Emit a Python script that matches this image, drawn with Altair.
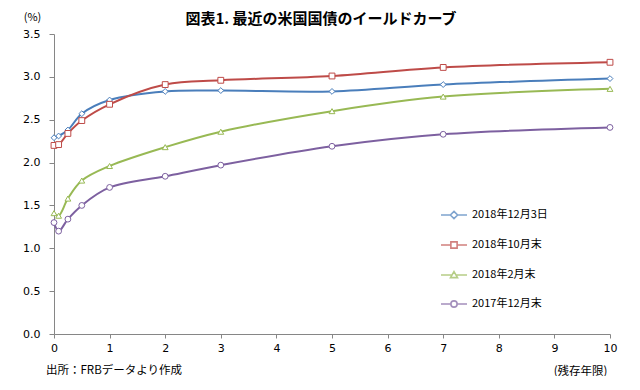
import altair as alt
import pandas as pd

maturity = [0, 0.083, 0.25, 0.5, 1, 2, 3, 5, 7, 10]
series_names = ["2018年12月3日", "2018年10月末", "2018年2月末", "2017年12月末"]
yield_dec3_2018 = [2.29, 2.31, 2.38, 2.57, 2.73, 2.83, 2.84, 2.83, 2.91, 2.98]
yield_oct_2018 = [2.20, 2.21, 2.34, 2.49, 2.68, 2.91, 2.96, 3.01, 3.11, 3.17]
yield_feb_2018 = [1.41, 1.38, 1.58, 1.79, 1.96, 2.18, 2.36, 2.60, 2.77, 2.86]
yield_dec_2017 = [1.30, 1.20, 1.34, 1.50, 1.71, 1.84, 1.97, 2.19, 2.33, 2.41]
x_ticks = [0, 1, 2, 3, 4, 5, 6, 7, 8, 9, 10]
y_ticks = [0.0, 0.5, 1.0, 1.5, 2.0, 2.5, 3.0, 3.5]

colors = ["#4A7EBB", "#BE4B48", "#98B954", "#7D60A0"]
marker_shapes = ["diamond", "square", "triangle-up", "circle"]
legend_shapes = [
    "M-1,0H-0.28M0.28,0H1M0,-0.28L0.28,0L0,0.28L-0.28,0Z",
    "M-1,0H-0.24M0.24,0H1M-0.24,-0.24H0.24V0.24H-0.24Z",
    "M-1,0H-0.15M0.15,0H1M0,-0.26L0.27,0.2L-0.27,0.2Z",
    "M-1,0H-0.24M0.24,0H1M-0.24,0A0.24,0.24,0,1,0,0.24,0A0.24,0.24,0,1,0,-0.24,0Z",
]

rows = []
for name, vals in zip(series_names, [yield_dec3_2018, yield_oct_2018, yield_feb_2018, yield_dec_2017]):
    for m, v in zip(maturity, vals):
        rows.append({"series": name, "maturity": m, "yield": v})
df = pd.DataFrame(rows)

font_jp = "Noto Sans CJK JP"
font_num = "DejaVu Sans"

x_enc = alt.X("maturity:Q",
              scale=alt.Scale(domain=[0, 10], nice=False),
              axis=alt.Axis(values=x_ticks, format="d", title="(残存年限)", grid=False,
                            labelFlush=False,
                            domainColor="#868686", tickColor="#868686", tickSize=4,
                            labelFont=font_num, labelFontSize=11, labelColor="#000000",
                            labelPadding=4,
                            titleFont=font_jp, titleFontSize=11.5, titleFontWeight="normal",
                            titleColor="#000000", titleAnchor="end", titleAlign="right",
                            titleX=553, titleY=37, titleBaseline="middle"))
y_enc = alt.Y("yield:Q",
              scale=alt.Scale(domain=[0, 3.5], nice=False),
              axis=alt.Axis(values=y_ticks, format=".1f", title="(%)", grid=False,
                            labelFlush=False,
                            domainColor="#868686", tickColor="#868686", tickSize=5,
                            labelFont=font_num, labelFontSize=11, labelColor="#000000",
                            labelPadding=9,
                            titleFont=font_jp, titleFontSize=11, titleFontWeight="normal",
                            titleColor="#000000", titleAngle=0, titleAlign="center",
                            titleX=-22, titleY=-17, titleBaseline="middle"))

color_scale = alt.Scale(domain=series_names, range=colors)

lines = alt.Chart(df).mark_line(interpolate="catmull-rom", strokeWidth=2).encode(
    x=x_enc, y=y_enc,
    color=alt.Color("series:N", scale=color_scale, legend=None),
    detail="series:N",
)

points = alt.Chart(df).mark_point(filled=False, fill="white", size=34, strokeWidth=1, opacity=1).encode(
    x=x_enc, y=y_enc,
    color=alt.Color("series:N", scale=color_scale, legend=None),
    shape=alt.Shape("series:N", scale=alt.Scale(domain=series_names, range=marker_shapes), legend=None),
)

legend_props = dict(title=None, orient="none", legendX=386, legendY=167,
                    symbolSize=676, symbolStrokeWidth=1.6,
                    labelFont=font_jp, labelFontSize=11, labelColor="#000000",
                    labelOffset=4, rowPadding=9, padding=0)

legend_layer = alt.Chart(df).transform_filter("false").mark_point(filled=False).encode(
    x=x_enc, y=y_enc,
    stroke=alt.Stroke("series:N", scale=alt.Scale(domain=series_names, range=colors),
                      legend=alt.Legend(**legend_props)),
    shape=alt.Shape("series:N", scale=alt.Scale(domain=series_names, range=legend_shapes),
                    legend=alt.Legend(**legend_props)),
)

source_text = alt.Chart(alt.Data(values=[{}])).mark_text(
    font=font_jp, fontSize=11.5, color="#000000", align="left", baseline="middle"
).encode(x=alt.value(-8), y=alt.value(337), text=alt.value("出所：FRBデータより作成"))

chart = alt.layer(lines, points, legend_layer, source_text).resolve_scale(
    shape="independent", stroke="independent"
).properties(
    title=alt.TitleParams("図表1. 最近の米国国債のイールドカーブ", font=font_jp, fontSize=15,
                          fontWeight="bold", color="#000000", anchor="middle",
                          baseline="middle", offset=-7, dx=-11, dy=16),
    width=556, height=300,
    autosize=alt.AutoSizeParams(type="none"),
    padding={"left": 46, "top": 26, "right": 20, "bottom": 42},
).configure_view(stroke=None)

chart.save("out.html", embed_options={"renderer": "svg", "actions": False})
